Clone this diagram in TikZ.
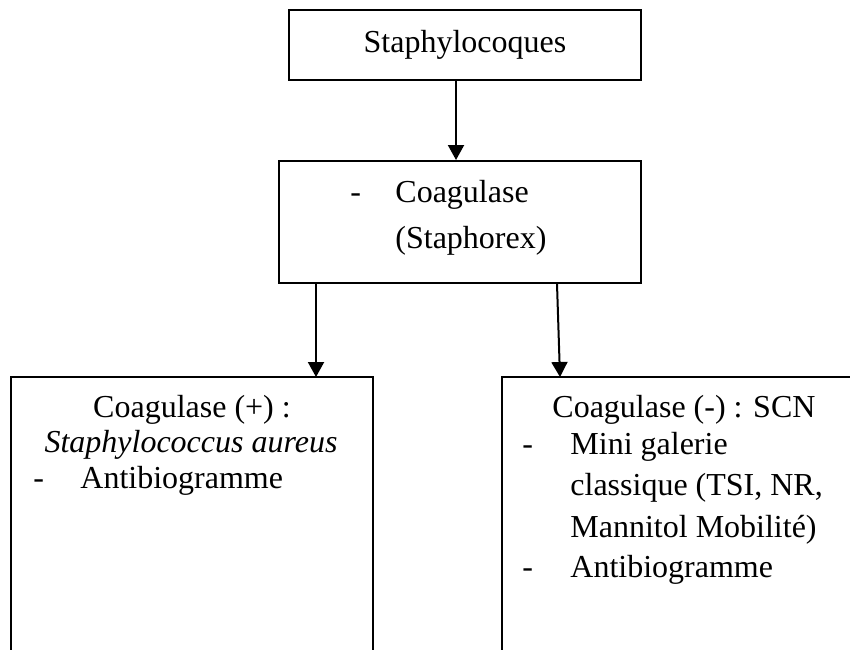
\documentclass[tikz,border=0pt]{standalone}
\usepackage{fontspec}
\setmainfont{Liberation Serif}
\usetikzlibrary{arrows.meta}

\begin{document}
\begin{tikzpicture}[x=0.5pt,y=-0.5pt,
  every node/.style={font=\fontsize{16pt}{18.4pt}\selectfont},
  box/.style={draw,line width=1pt,inner sep=0pt},
  frame/.style={line width=1pt},
  txt/.style={anchor=base west,inner sep=0pt},
  ctxt/.style={anchor=base,inner sep=0pt},
  arr/.style={line width=1pt,-{Triangle[length=7.5pt,width=8pt]}}]
\useasboundingbox (0,0) rectangle (850,649);
\node[box,minimum width=176pt,minimum height=35pt] (top) at (465,45) {Staphylocoques};
\node[box,minimum width=181pt,minimum height=61pt] (test) at (460,222) {};
\node[txt] (testdash)  at (350,202) {-};
\node[txt] (coag)      at (395,202) {Coagulase};
\node[txt] (staphorex) at (395,248) {(Staphorex)};
\coordinate (L) at (316,377);
\coordinate (R) at (560,377);
\draw[frame] (11,660) -- (11,377) -- (373,377) -- (373,660);
\draw[frame] (502,660) -- (502,377) -- (860,377);
\node[ctxt] (pos)     at (192,417) {Coagulase (+) :};
\node[ctxt] (aureus)  at (191,452) {\itshape Staphylococcus aureus};
\node[txt]  (posdash) at (33,488)  {-};
\node[txt]  (posatb)  at (80,488)  {Antibiogramme};
\node[txt] (neg)      at (552,417) {Coagulase (-) : SCN};
\node[txt] (negdash1) at (522,454) {-};
\node[txt] (gal1)     at (570,454) {Mini galerie};
\node[txt] (gal2)     at (570,495) {classique (TSI, NR,};
\node[txt] (gal3)     at (570,537) {Mannitol Mobilité)};
\node[txt] (negdash2) at (522,577) {-};
\node[txt] (negatb)   at (570,577) {Antibiogramme};
\draw[arr] ([xshift=-4.5pt]top.south) -- ([xshift=-2pt]test.north);
\draw[arr] (test.south -| L) -- (L);
\draw[arr] ([xshift=48.5pt]test.south) -- (R);
\end{tikzpicture}
\end{document}
